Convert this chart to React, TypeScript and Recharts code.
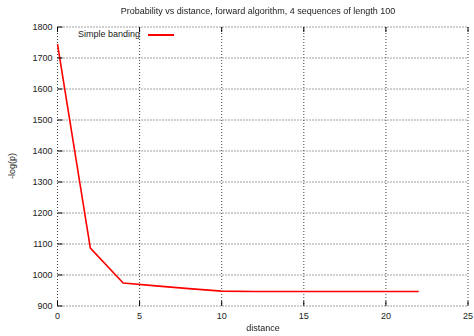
import React from "react";
import { LineChart, Line, XAxis, YAxis, CartesianGrid } from "recharts";

// distance vs -log(p)
const distances = [0, 2, 4, 6, 8, 10, 12, 14, 16, 18, 20, 22];
const negLogP = [1745, 1087, 974, 965, 956, 948, 947, 947, 947, 947, 947, 947];
const xTicks = [0, 5, 10, 15, 20, 25];
const yTicks = [900, 1000, 1100, 1200, 1300, 1400, 1500, 1600, 1700, 1800];

const data = distances.map((d, i) => ({ distance: d, value: negLogP[i] }));

const FONT = "'Liberation Sans', Arial, Helvetica, sans-serif";
const TEXT = "#222";

const LeftTick = (props: any) => {
    const { x, y, payload } = props;
    return (
        <g>
            <text x={x} y={y} dy="0.355em" textAnchor="end" fontSize={9} fill={TEXT} fontFamily={FONT}>
                {payload.value}
            </text>
            <line x1={x + 5} x2={x + 10} y1={y} y2={y} stroke="#000" strokeWidth={1} />
        </g>
    );
};

const RightTick = (props: any) => {
    const { x, y } = props;
    return <line x1={x - 5} x2={x} y1={y} y2={y} stroke="#000" strokeWidth={1} />;
};

const BottomTick = (props: any) => {
    const { x, y, payload } = props;
    return (
        <g>
            <text x={x} y={y} dy="0.71em" textAnchor="middle" fontSize={9} fill={TEXT} fontFamily={FONT}>
                {payload.value}
            </text>
            <line x1={x} x2={x} y1={y - 7} y2={y - 12} stroke="#000" strokeWidth={1} />
        </g>
    );
};

const TopTick = (props: any) => {
    const { x, y } = props;
    return <line x1={x} x2={x} y1={y} y2={y + 5} stroke="#000" strokeWidth={1} />;
};

export default function App() {
    return (
        <div style={{ position: "fixed", left: 0, top: 0, width: 474, height: 336, background: "#fff", fontFamily: FONT }}>
            <LineChart width={474} height={336} data={data} margin={{ top: 0, right: 0, bottom: 0, left: 0 }}>
                <CartesianGrid stroke="#444" strokeDasharray="1 2" strokeWidth={1} />
                <XAxis
                    dataKey="distance"
                    type="number"
                    domain={[0, 25]}
                    ticks={xTicks}
                    height={30}
                    tickSize={0}
                    tickMargin={7}
                    axisLine={false}
                    tickLine={false}
                    tick={<BottomTick />}
                    interval={0}
                />
                <XAxis
                    xAxisId="top"
                    orientation="top"
                    dataKey="distance"
                    type="number"
                    domain={[0, 25]}
                    ticks={xTicks}
                    height={27}
                    tickSize={0}
                    tickMargin={0}
                    axisLine={false}
                    tickLine={false}
                    tick={<TopTick />}
                    interval={0}
                />
                <YAxis
                    type="number"
                    domain={[900, 1800]}
                    ticks={yTicks}
                    width={57.5}
                    tickSize={0}
                    tickMargin={5}
                    axisLine={false}
                    tickLine={false}
                    tick={<LeftTick />}
                    interval={0}
                />
                <YAxis
                    yAxisId="right"
                    orientation="right"
                    type="number"
                    domain={[900, 1800]}
                    ticks={yTicks}
                    width={6}
                    tickSize={0}
                    tickMargin={0}
                    axisLine={false}
                    tickLine={false}
                    tick={<RightTick />}
                    interval={0}
                />
                <Line
                    dataKey="value"
                    stroke="#ff0000"
                    strokeWidth={1.6}
                    dot={false}
                    isAnimationActive={false}
                />
            </LineChart>
            <div style={{ position: "absolute", left: 0, width: 516, top: 6, textAlign: "center", fontSize: 9, color: TEXT }}>
                Probability vs distance, forward algorithm, 4 sequences of length 100
            </div>
            <div style={{ position: "absolute", left: 0, width: 526, top: 323, textAlign: "center", fontSize: 9, color: TEXT }}>
                distance
            </div>
            <div
                style={{
                    position: "absolute",
                    left: 12,
                    top: 166,
                    transform: "translate(-50%, -50%) rotate(-90deg)",
                    fontSize: 9,
                    color: TEXT,
                    whiteSpace: "nowrap",
                }}
            >
                -log(p)
            </div>
            <div style={{ position: "absolute", left: 40, width: 100, top: 29, textAlign: "right", fontSize: 9, color: TEXT }}>
                Simple banding
            </div>
            <div style={{ position: "absolute", left: 148, width: 26, top: 34, height: 2, background: "#ff0000" }} />
        </div>
    );
}
